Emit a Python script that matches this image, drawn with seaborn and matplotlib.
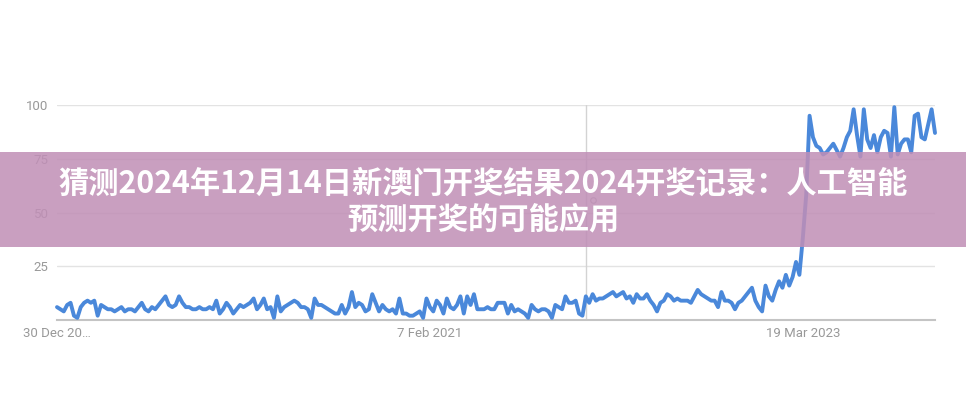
import numpy as np
import pandas as pd
import matplotlib.pyplot as plt
import seaborn as sns
from matplotlib.patches import Rectangle

# weekly interest values (Google Trends style, 0-100)
start_week = "2018-12-30"
vals_a = [6, 5, 4, 7, 8, 2, 1, 6, 8, 9, 8, 9, 2, 7, 6, 5, 5, 4, 5, 6,
          4, 5, 5, 4, 6, 8, 5, 4, 6, 5, 7, 9, 11, 7, 6, 7, 11, 8, 6, 6,
          5, 5, 6, 5, 5]
vals_b = [6, 5, 9, 3, 5, 8, 6, 3, 5, 7, 6, 7, 8, 10, 5, 7, 10, 5, 6, 1,
          11, 4, 6, 7, 8, 9, 8, 6, 6, 5, 1, 10, 7, 7, 6, 5, 4, 3, 3, 7,
          3, 6, 13, 6, 8, 7]
vals_c = [4, 5, 12, 8, 4, 7, 5, 4, 5, 3, 10, 3, 3, 2, 2, 3, 4, 1, 10, 6,
          4, 9, 7, 3, 10, 6, 5, 7, 11, 3, 11, 7, 12, 5, 5, 5, 6, 5, 5, 8,
          8, 8, 3, 7, 4]
vals_d = [5, 4, 3, 1, 7, 5, 4, 5, 5, 4, 1, 7, 6, 5, 11, 8, 8, 9, 3, 2,
          11, 8, 12, 9, 10, 10, 11, 12, 13, 11, 12, 13, 10, 11, 8, 12, 10, 10, 12, 9,
          7, 4, 8, 9, 12, 11, 9]
vals_e = [10, 9, 9, 9, 8, 11, 14, 12, 11, 10, 9, 9, 6, 13, 9, 9, 8, 5, 8, 9,
          11, 13, 15, 9, 6, 4, 16, 11, 9, 14, 18, 15, 21, 16, 20, 27, 21, 38, 58, 95,
          85, 81, 80, 77, 78, 80, 82, 79, 76, 80, 85, 88, 98, 86, 76, 98, 84, 80, 86, 78,
          85, 88, 87, 76, 99, 77, 82, 84, 84, 78, 95, 96, 85, 84, 91, 98, 87]

tick_dates = ["2018-12-30", "2021-02-07", "2023-03-19"]
tick_labels = ["30 Dec 20…", "7 Feb 2021", "19 Mar 2023"]
y_ticks = [25, 50, 75, 100]
note_date = "2021-12-26"

title_1 = "猜测2024年12月14日新澳门开奖结果2024开奖记录：人工智能"
title_2 = "预测开奖的可能应用"

interest = vals_a + vals_b + vals_c + vals_d + vals_e
weeks = pd.date_range(start_week, periods=len(interest), freq="W-SUN")
df = pd.DataFrame({"week": weeks, "interest": interest})

sns.set_style("white")
plt.rcParams['font.family'] = ['Roboto', 'DejaVu Sans']

fig = plt.figure(figsize=(9.66, 4), dpi=100)
ax = fig.add_axes([57 / 966, 80 / 400, 878 / 966, 215 / 400])

sns.lineplot(data=df, x="week", y="interest", ax=ax, color="#4a88da",
             linewidth=2.8, clip_on=False, zorder=3)

ax.set_xlim(weeks[0], weeks[-1])
ax.set_ylim(0, 100)
ax.set_yticks(y_ticks)
ax.set_xticks(pd.to_datetime(tick_dates))
ax.set_xticklabels(tick_labels)
ax.yaxis.grid(True, color="#e3e3e3", linewidth=1)
ax.xaxis.grid(False)
ax.axvline(pd.Timestamp(note_date), color="#d3d3d3", lw=1, zorder=1)

# small note marker like google trends
ax.plot(pd.Timestamp(note_date) + pd.Timedelta(days=14), 56, marker="o", ms=4,
        mfc="none", mec="#b0b0b0", mew=0.8, zorder=2)

for s in ["top", "right", "left"]:
    ax.spines[s].set_visible(False)
ax.spines["bottom"].set_color("#c4c4c4")
ax.spines["bottom"].set_linewidth(1.5)

ax.tick_params(length=0, colors="#999999", labelsize=9.5)
ax.tick_params(axis="y", pad=6)
ax.tick_params(axis="x", pad=5)
ax.set_xlabel("")
ax.set_ylabel("")

# title banner over the chart
fig.add_artist(Rectangle((0, 153 / 400), 1, 95 / 400, transform=fig.transFigure,
                         facecolor="#c08fb6", alpha=0.86, edgecolor="none", zorder=5))
fig.text(0.5, 1 - 184 / 400, title_1, ha="center", va="center", color="white",
         fontsize=21.8, fontweight="bold", family=["Noto Sans CJK SC", "DejaVu Sans"], zorder=6)
fig.text(0.5, 1 - 219 / 400, title_2, ha="center", va="center", color="white",
         fontsize=21.8, fontweight="bold", family=["Noto Sans CJK SC", "DejaVu Sans"], zorder=6)

plt.savefig("out.png", dpi=100)
